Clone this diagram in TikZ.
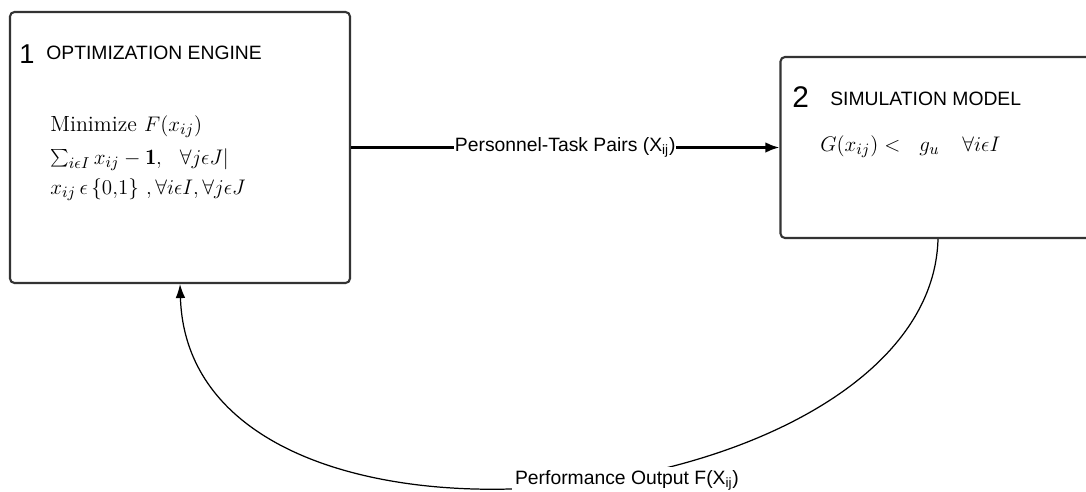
\documentclass[tikz,border=0pt]{standalone}
\usepackage{fontspec}
\setsansfont{Liberation Sans}
\usetikzlibrary{arrows.meta,positioning}

\begin{document}
\begin{tikzpicture}[
  x=0.02cm, y=-0.02cm,
  box/.style={rectangle, rounded corners=2.5pt, draw=black!80, line width=1.2pt},
  flow/.style={-{Latex[length=8pt,width=6pt]}, line width=1.4pt},
  feedback/.style={-{Latex[length=8pt,width=5.5pt]}, line width=0.7pt},
  tag/.style={font=\sffamily\fontsize{11}{13}\selectfont, fill=white, inner sep=1pt},
  title/.style={font=\sffamily\fontsize{11}{13}\selectfont, anchor=base west, inner sep=0pt},
  eqn/.style={font=\fontsize{12.5}{17}\selectfont, anchor=base west, inner sep=0pt}
]
\useasboundingbox (0,0) rectangle (1086,491);
\clip (0,0) rectangle (1086,491);

% Blocks
\node[box, minimum width=6.8cm, minimum height=5.42cm] (opt) at (180,147.5) {};
\node[box, minimum width=6.3cm, minimum height=3.62cm] (sim) at (938,147.5) {};

% Block titles
\node[title, font=\sffamily\fontsize{15.5}{15.5}\selectfont] (num1) at (19,63) {1};
\node[title] (head1) at (46,59.5) {OPTIMIZATION ENGINE};
\node[title, font=\sffamily\fontsize{17}{17}\selectfont] (num2) at (792,107) {2};
\node[title] (head2) at (830,105) {SIMULATION MODEL};

% Formulations
\node[eqn] (obj) at (50,131) {Minimize $F(x_{ij})$};
\node[eqn] (assign) at (50,164) {$\sum_{i\epsilon I} x_{ij} - \mathbf{1},\ \ \forall j\epsilon J|$};
\node[eqn] (binary) at (50,194) {$x_{ij}\,\epsilon\,\{0{,}1\}\ ,\forall i\epsilon I, \forall j\epsilon J$};
\node[eqn, font=\fontsize{13}{17}\selectfont] (limit) at (820,151) {$G\bigl(x_{ij}\bigr) <\ \; g_u \quad \forall i\epsilon I$};

% Arrows
\draw[flow] (opt) -- node[tag, inner sep=0.5pt] (pairs) {Personnel-Task Pairs (X\textsubscript{ij})} (sim);
\draw[feedback] (sim.south) .. controls +(-7.5,277) and +(10,317) .. (opt.south);
\node[tag, inner sep=2pt] (perf) at (627,480) {Performance Output F(X\textsubscript{ij})};
\end{tikzpicture}
\end{document}
